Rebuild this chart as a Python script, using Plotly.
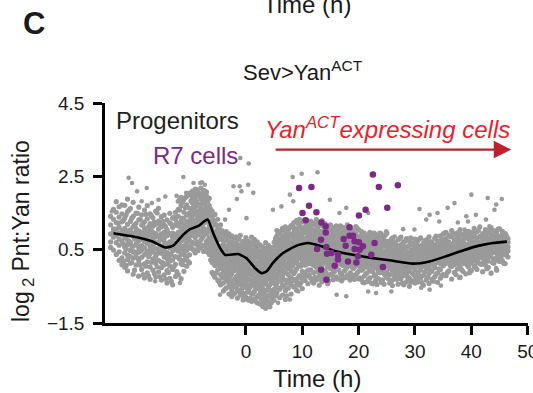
import plotly.graph_objects as go

# ---- data ----
# dense cloud of progenitor measurements, by time column (h): log2 Pnt:Yan ratio
gray_cols = [
    (-24.0, [0.71, 1.18, 0.93, 1.41, 0.56]),
    (-23.5, [1.07, 0.49, 1.33, 0.84, 1.60, 0.98]),
    (-23.0, [0.88, 1.24, 0.37, 1.52, 0.69, 1.06, 1.81]),
    (-22.5, [0.62, 1.39, 0.95, 0.21, 1.12, 1.67, 0.79, 0.44]),
    (-22.0, [1.03, 0.28, 0.74, 1.48, 0.91, 0.09, 1.26, 1.72]),
    (-21.5, [0.57, 1.36, 0.02, 0.83, 1.71, 0.41, 1.08, 0.96]),
    (-21.0, [1.19, 0.35, 0.77, -0.08, 1.54, 0.64, 0.99, 1.88, 0.23]),
    (-20.5, [0.48, 1.27, 0.90, 0.13, 1.62, 0.70, 1.04, 0.31]),
    (-20.0, [0.86, -0.17, 1.41, 0.59, 1.13, 0.27, 1.79, 0.95, 0.44]),
    (-19.5, [1.22, 0.66, 0.08, 0.97, 1.50, 0.38, 0.81, 1.08]),
    (-19.0, [0.52, 1.31, -0.22, 0.74, 1.01, 0.19, 1.66, 0.88, 0.43]),
    (-18.5, [0.93, 0.29, 1.17, 0.61, -0.04, 1.45, 0.78, 0.50]),
    (-18.0, [0.36, 1.09, 0.72, 1.58, 0.11, 0.89, -0.27, 0.55, 1.26]),
    (-17.5, [0.81, 0.17, 1.34, 0.46, 0.99, -0.13, 0.67, 1.70]),
    (-17.0, [0.58, 1.21, 0.03, 0.90, 0.39, 1.48, 0.73, -0.31, 1.02]),
    (-16.5, [1.14, 0.44, 0.82, -0.06, 0.62, 1.37, 0.25, 0.97]),
    (-16.0, [0.33, 0.94, 1.55, 0.12, 0.71, -0.24, 1.19, 0.53, 0.86]),
    (-15.5, [0.68, 1.28, 0.21, 0.89, -0.11, 0.47, 1.06, 1.63]),
    (-15.0, [0.40, 1.12, -0.33, 0.77, 0.58, 1.40, 0.16, 0.93, 0.01]),
    (-14.5, [0.52, 1.18, -0.19, 0.79, 0.30, 1.44, 0.08, 0.66, 0.97]),
    (-14.0, [0.26, 0.88, -0.41, 0.61, 1.05, 0.12, 1.31, 0.43, -0.07]),
    (-13.5, [0.71, 0.05, 1.23, 0.38, -0.28, 0.92, 0.55, 1.49, 0.19]),
    (-13.0, [0.47, 1.11, -0.46, 0.83, 0.22, 0.64, 1.36, -0.04, 0.95]),
    (-12.5, [0.90, 0.31, 1.52, -0.23, 0.68, 1.17, 0.10, 0.57, 1.33]),
    (-12.0, [0.63, 1.41, -0.18, 0.97, 1.82, 0.29, 1.15, 0.46, 0.80, 1.60]),
    (-11.5, [1.08, 0.37, 1.70, 0.74, -0.29, 1.28, 0.55, 1.93, 0.12, 0.91]),
    (-11.0, [0.82, 1.52, 0.21, 1.19, 0.60, 1.87, -0.09, 1.01, 0.43, 1.34]),
    (-10.5, [1.25, 0.48, 1.96, 0.88, 0.05, 1.44, 0.69, 1.10, 1.72, 0.30]),
    (-10.0, [0.97, 1.63, 0.36, 1.30, 2.04, 0.75, 1.16, 0.14, 1.49, 0.58]),
    (-9.5, [1.21, 1.78, 0.52, 1.43, 0.94, 2.10, 1.05, 0.70, 1.61, 1.33, 1.92]),
    (-9.0, [1.48, 0.83, 1.99, 1.12, 0.41, 1.67, 1.29, 2.15, 0.66, 1.02, 1.85]),
    (-8.5, [1.06, 1.72, 1.38, 0.58, 2.06, 1.19, 0.90, 1.55, 1.96, 0.47, 1.27]),
    (-8.0, [1.63, 1.15, 2.18, 0.76, 1.41, 1.88, 0.99, 0.55, 1.30, 1.74, 2.02]),
    (-7.5, [1.36, 1.91, 0.88, 1.58, 2.12, 1.08, 0.62, 1.47, 1.79, 1.22, 0.45]),
    (-7.0, [1.84, 1.02, 1.52, 0.71, 2.07, 1.25, 1.66, 0.93, 1.39, 1.97, 0.51]),
    (-6.5, [1.13, 1.70, 0.82, 1.44, 0.49, 1.90, 1.28, 0.64, 1.57, 1.01, 0.37]),
    (-6.0, [0.92, 1.41, 0.31, 1.12, 0.66, -0.12, 1.55, 0.48, 0.80, 0.15]),
    (-5.5, [0.54, 1.22, 0.07, 0.85, 1.46, 0.36, -0.25, 0.99, 0.62, 0.20]),
    (-5.0, [0.76, 0.18, 1.08, -0.33, 0.43, 1.33, 0.61, -0.05, 0.95, 0.29]),
    (-4.5, [0.35, 0.97, -0.18, 0.60, 1.18, 0.09, -0.46, 0.79, 0.47, 0.22]),
    (-4.0, [0.12, 0.74, -0.41, 0.50, -0.12, 0.95, 0.31, -0.63, 0.63, 0.02, 0.41]),
    (-3.5, [0.44, -0.22, 0.86, 0.09, -0.55, 0.58, 0.27, -0.04, 0.99, -0.33, 0.17]),
    (-3.0, [-0.09, 0.62, 0.21, -0.48, 0.80, 0.35, -0.71, 0.06, 0.49, -0.27, 0.93]),
    (-2.5, [0.30, -0.36, 0.71, 0.01, -0.62, 0.53, 0.18, -0.15, 0.88, -0.78, 0.40]),
    (-2.0, [0.57, -0.07, 0.24, -0.52, 0.82, 0.11, -0.30, 0.45, -0.69, 0.68, 0.03]),
    (-1.5, [-0.21, 0.38, 0.77, -0.58, 0.15, 0.51, -0.82, 0.02, 0.64, -0.38, 0.27]),
    (-1.0, [0.19, -0.45, 0.61, -0.13, 0.89, 0.33, -0.74, 0.08, 0.47, -0.29, -0.02]),
    (-0.5, [-0.34, 0.42, 0.05, -0.69, 0.73, 0.21, -0.11, 0.56, -0.87, 0.31, -0.46, 0.12]),
    (0.0, [0.26, -0.18, 0.64, -0.53, 0.09, 0.83, -0.39, 0.37, -0.80, -0.03, 0.50, -0.24]),
    (0.5, [-0.08, 0.55, -0.61, 0.19, -0.30, 0.71, 0.03, -0.88, 0.40, -0.15, 0.28, -0.47]),
    (1.0, [0.33, -0.42, 0.11, 0.66, -0.70, -0.19, 0.47, -0.05, 0.84, -0.91, 0.22, -0.33]),
    (1.5, [-0.27, 0.18, -0.64, 0.51, -0.01, 0.35, -0.85, -0.12, 0.62, -0.48, 0.07, 0.78]),
    (2.0, [0.14, -0.55, 0.43, -0.22, -0.79, 0.29, -0.06, 0.58, -0.40, 0.02, -0.95, 0.71]),
    (2.5, [-0.31, 0.22, -0.72, 0.05, -0.49, 0.47, -0.14, -0.98, 0.36, -0.60, -0.02, 0.63]),
    (3.0, [0.11, -0.57, -0.19, 0.58, -0.87, 0.28, -0.36, -0.06, -1.05, 0.41, -0.70, 0.17]),
    (3.5, [-0.44, 0.03, -0.81, 0.34, -0.25, -1.10, 0.52, -0.12, -0.63, 0.20, -0.38, 0.69]),
    (4.0, [0.24, -0.29, -0.92, 0.09, -0.54, 0.45, -0.17, -0.75, 0.62, -0.03, -1.02, 0.31]),
    (4.5, [-0.10, 0.38, -0.66, 0.14, -0.41, -0.95, 0.55, -0.21, 0.03, -0.79, 0.27, -0.33]),
    (5.0, [0.46, -0.18, 0.08, -0.58, 0.70, -0.35, -0.88, 0.19, -0.05, 0.33, -0.71, 0.57]),
    (5.5, [0.12, 0.65, -0.41, 0.36, -0.16, 0.88, -0.68, 0.23, 0.51, -0.03, 1.02, -0.29]),
    (6.0, [0.44, -0.22, 0.79, 0.05, -0.58, 0.31, 0.97, -0.10, 0.60, -0.81, 0.18, 0.70]),
    (6.5, [-0.05, 0.52, 0.21, -0.47, 0.86, 0.38, -0.74, 0.09, 1.08, -0.25, 0.67, 0.30]),
    (7.0, [0.63, 0.14, -0.33, 0.92, 0.41, -0.62, 0.27, 0.75, -0.12, 1.12, 0.02, -0.86]),
    (7.5, [0.29, 0.81, -0.18, 0.48, -0.55, 1.03, 0.10, 0.66, -0.37, 0.37, 0.95, -0.02]),
    (8.0, [0.57, -0.08, 0.91, 0.24, -0.46, 0.72, 1.15, 0.35, -0.71, 0.13, 0.49, -0.26]),
    (8.5, [0.40, 0.98, -0.15, 0.66, 0.12, 1.24, -0.52, 0.81, 0.28, 0.53, 1.10, -0.31]),
    (9.0, [0.73, 0.19, 1.07, -0.38, 0.55, 0.90, -0.02, 1.30, 0.35, -0.61, 0.64, 0.44]),
    (9.5, [0.26, 0.85, 0.48, -0.21, 1.18, 0.61, 0.06, 0.97, -0.47, 0.39, 1.33, 0.77]),
    (10.0, [0.94, 0.31, -0.09, 0.70, 1.26, 0.16, 0.52, -0.56, 0.83, 0.42, 1.05, -0.28]),
    (10.5, [0.59, 1.13, 0.08, 0.79, -0.34, 0.45, 1.31, 0.22, 0.96, -0.12, 0.66, 0.37]),
    (11.0, [0.21, 0.88, 0.50, -0.43, 1.02, 0.67, -0.06, 1.22, 0.34, 0.76, 0.11, 0.58]),
    (11.5, [0.71, 0.15, 1.09, 0.42, -0.28, 0.86, 0.57, 1.28, -0.05, 0.33, 0.98, 0.63]),
    (12.0, [0.38, 0.92, -0.12, 0.64, 1.19, 0.23, 0.79, -0.41, 0.51, 1.04, 0.08, 0.70]),
    (12.5, [0.85, 0.29, 0.60, -0.33, 1.14, 0.46, 0.02, 0.97, 0.73, 1.32, 0.18, 0.55]),
    (13.0, [0.13, 0.69, 1.01, 0.36, -0.22, 0.82, 0.53, 1.25, -0.47, 0.61, 0.27, 0.90]),
    (13.5, [0.48, 1.16, 0.07, 0.76, 0.33, -0.15, 0.95, 0.59, 1.29, 0.20, 0.67, -0.38]),
    (14.0, [0.62, 0.24, 0.89, -0.30, 0.45, 1.07, 0.14, 0.74, 0.39, 1.21, -0.06, 0.55]),
    (14.5, [0.31, 0.81, 0.03, 0.58, 1.12, -0.24, 0.70, 0.41, 0.93, 0.17, -0.43, 0.50]),
    (15.0, [0.77, 0.12, 0.52, 1.03, -0.18, 0.36, 0.88, 0.64, -0.02, 1.18, 0.26, 0.45]),
    (15.5, [0.40, 0.86, -0.11, 0.57, 1.10, 0.21, 0.68, -0.32, 0.95, 0.30, 0.49]),
    (16.0, [0.63, 0.18, 0.99, 0.37, -0.24, 0.76, 0.47, 1.15, 0.05, 0.55, 0.28]),
    (16.5, [0.26, 0.72, 0.51, -0.05, 1.04, 0.35, 0.84, 0.12, -0.29, 0.61, 0.92]),
    (17.0, [0.81, 0.40, 0.09, 0.66, 1.12, -0.17, 0.53, 0.23, 0.97, 0.44, -0.35]),
    (17.5, [0.34, 0.59, 0.93, -0.08, 0.71, 0.17, 1.06, 0.46, -0.27, 0.82, 0.28]),
    (18.0, [0.55, 0.14, 0.78, 0.38, -0.20, 0.98, 0.61, 0.03, 1.18, 0.45, 0.24]),
    (18.5, [0.20, 0.69, 0.44, 0.90, -0.13, 0.57, 0.31, 1.08, -0.33, 0.77, 0.50]),
    (19.0, [0.62, 0.35, -0.02, 0.83, 0.48, 0.10, 1.01, 0.27, 0.72, -0.25, 0.41]),
    (19.5, [0.39, 0.75, 0.16, 0.54, -0.19, 0.94, 0.30, 0.65, 1.13, 0.06, 0.47]),
    (20.0, [0.70, 0.23, 0.51, -0.09, 0.86, 0.37, 1.04, 0.13, -0.30, 0.60, 0.42]),
    (20.5, [0.31, 0.69, -0.06, 0.48, 0.12, 0.88, -0.31, 0.57, 0.22, 0.99]),
    (21.0, [0.52, 0.08, 0.77, 0.35, -0.22, 0.63, 0.19, 0.95, -0.40, 0.41]),
    (21.5, [0.16, 0.59, 0.38, -0.13, 0.83, 0.26, -0.37, 0.68, 0.46, 0.02]),
    (22.0, [0.44, 0.81, 0.10, 0.56, -0.27, 0.33, 0.97, -0.04, 0.65, 0.21]),
    (22.5, [0.28, -0.10, 0.61, 0.40, 0.89, 0.05, -0.43, 0.52, 0.17, 0.74]),
    (23.0, [0.58, 0.20, 0.37, -0.19, 0.76, 0.01, 0.47, -0.35, 0.91, 0.29]),
    (23.5, [0.09, 0.50, 0.70, 0.25, -0.29, 0.39, 0.84, -0.08, 0.60, 0.14]),
    (24.0, [0.43, -0.02, 0.66, 0.18, 0.93, 0.32, -0.39, 0.55, 0.07, 0.79]),
    (24.5, [0.24, 0.62, -0.16, 0.45, 0.11, 0.85, -0.44, 0.36, 0.72, 0.00]),
    (25.0, [0.51, 0.15, 0.73, -0.25, 0.34, 0.95, 0.04, 0.58, -0.11, 0.27]),
    (25.5, [0.20, 0.58, -0.18, 0.37, -0.41, 0.73, 0.06, 0.46, -0.02]),
    (26.0, [0.41, -0.07, 0.65, 0.12, -0.33, 0.29, 0.82, -0.48, 0.51]),
    (26.5, [0.03, 0.49, 0.26, -0.26, 0.70, -0.10, 0.36, 0.15, 0.59]),
    (27.0, [0.33, -0.15, 0.55, 0.08, -0.44, 0.77, 0.22, -0.03, 0.45]),
    (27.5, [-0.05, 0.38, 0.18, 0.63, -0.30, 0.47, -0.12, 0.84, 0.27]),
    (28.0, [0.25, 0.52, -0.21, 0.10, 0.71, -0.46, 0.35, 0.01, 0.60]),
    (28.5, [0.44, -0.01, 0.30, -0.37, 0.57, 0.13, 0.80, -0.16, 0.21]),
    (29.0, [0.09, 0.62, -0.28, 0.39, 0.20, -0.09, 0.74, 0.31, -0.50]),
    (29.5, [0.36, -0.14, 0.50, 0.02, 0.68, -0.35, 0.24, 0.43, 0.11]),
    (30.0, [0.17, 0.55, -0.23, 0.32, -0.04, 0.79, 0.07, -0.41, 0.46]),
    (30.5, [0.28, -0.12, 0.61, 0.05, 0.44, -0.38, 0.74, 0.19]),
    (31.0, [0.50, 0.13, -0.27, 0.36, 0.82, -0.06, 0.25, 0.58]),
    (31.5, [0.07, 0.42, 0.68, -0.20, 0.31, -0.47, 0.55, 0.16]),
    (32.0, [0.35, -0.03, 0.57, 0.22, -0.33, 0.77, 0.10, 0.46]),
    (32.5, [0.61, 0.18, -0.15, 0.40, 0.03, 0.85, -0.42, 0.29]),
    (33.0, [0.24, 0.52, -0.09, 0.70, 0.14, -0.30, 0.43, 0.33]),
    (33.5, [0.47, 0.09, 0.63, -0.24, 0.30, 0.81, 0.01, 0.20]),
    (34.0, [0.15, 0.58, 0.37, -0.13, 0.74, 0.26, -0.39, 0.49]),
    (34.5, [0.40, -0.05, 0.66, 0.21, 0.53, -0.28, 0.88, 0.12]),
    (35.0, [0.30, 0.72, 0.06, 0.47, -0.18, 0.61, 0.19, 0.93]),
    (35.5, [0.52, 0.13, 0.80, 0.34, -0.21, 0.66, 0.97, 0.25]),
    (36.0, [0.27, 0.71, -0.08, 0.49, 0.90, 0.16, 0.60, 0.38]),
    (36.5, [0.63, 0.04, 0.44, 0.85, -0.30, 0.55, 0.21, 1.02]),
    (37.0, [0.36, 0.78, 0.19, 0.57, -0.12, 0.93, 0.47, 0.09]),
    (37.5, [0.59, 0.30, 0.96, -0.03, 0.70, 0.42, 0.15, 0.82]),
    (38.0, [0.22, 0.68, 0.49, 1.05, 0.06, 0.37, -0.25, 0.76]),
    (38.5, [0.74, 0.33, 0.58, -0.09, 0.89, 0.45, 0.12, 0.64]),
    (39.0, [0.41, 0.86, 0.17, 0.62, 0.99, 0.27, -0.16, 0.53]),
    (39.5, [0.65, 0.20, 0.79, 0.46, 0.03, 1.00, 0.35, 0.57]),
    (40.0, [0.31, 0.72, 0.55, -0.07, 0.90, 0.43, 0.14, 0.81]),
    (40.5, [0.58, 0.21, 0.92, 0.40, 1.08, 0.05, 0.70]),
    (41.0, [0.77, 0.35, 0.99, -0.04, 0.62, 0.47, 0.15]),
    (41.5, [0.44, 0.86, 0.12, 0.68, 1.12, 0.30, 0.55]),
    (42.0, [0.63, 0.27, 0.94, 0.50, -0.10, 0.79, 0.38]),
    (42.5, [0.36, 0.73, 0.08, 1.05, 0.57, 0.22, 0.88]),
    (43.0, [0.81, 0.46, 0.19, 0.66, 0.97, 0.02, 0.54]),
    (43.5, [0.52, 0.91, 0.31, 0.74, -0.14, 0.60, 1.10]),
    (44.0, [0.69, 0.24, 0.85, 0.43, 1.02, 0.13, 0.58]),
    (44.5, [0.40, 0.78, 0.56, -0.06, 0.95, 0.29, 0.67]),
    (45.0, [0.75, 0.33, 1.07, 0.51, 0.18, 0.86, 0.62]),
    (45.5, [0.47, 0.90, 0.20, 0.68, 0.38, 1.00, 0.57]),
    (46.0, [0.64, 0.36, 0.82, 0.12, 0.55, 0.94, 0.45]),
    (46.5, [0.58, 0.80, 0.30, 0.70, 0.47]),
]

# further cloud points, read between the columns above
gray_cols_b = [
    (-21.75, [0.66, 1.29, 0.18, 0.97]), (-21.25, [1.45, 0.52, 0.86, 0.07]),
    (-20.75, [0.33, 1.02, 1.58, 0.74]), (-20.25, [0.91, 0.15, 1.36, 0.60]),
    (-19.75, [1.17, 0.44, -0.06, 0.79]), (-19.25, [0.27, 0.95, 1.49, 0.62]),
    (-18.75, [0.83, 1.33, 0.08, 0.46]), (-18.25, [1.21, 0.57, -0.18, 0.98]),
    (-17.75, [0.40, 0.92, 1.46, 0.05]), (-17.25, [0.75, -0.22, 1.13, 0.31]),
    (-16.75, [1.01, 0.51, 0.16, 1.42]), (-16.25, [0.22, 0.68, 1.25, -0.15]),
    (-15.75, [0.87, 0.38, 1.50, 0.03]), (-15.25, [0.58, 1.19, -0.24, 0.79]),
    (-14.75, [0.14, 0.91, 0.45, 1.27]), (-14.25, [0.67, -0.30, 1.12, 0.34]),
    (-13.75, [0.96, 0.28, -0.12, 0.60]), (-13.25, [0.36, 1.20, 0.71, -0.36]),
    (-12.75, [0.81, 0.04, 1.39, 0.49]), (-12.25, [1.24, 0.55, -0.10, 0.93]),
    (-11.75, [0.94, 1.58, 0.24, 1.22, 0.67, 1.87]),
    (-11.25, [1.36, 0.51, 1.79, 0.09, 1.03, 0.76]),
    (-10.75, [0.62, 1.64, 1.11, 0.33, 1.92, 0.88]),
    (-10.25, [1.48, 0.79, 0.18, 1.26, 1.99, 0.53]),
    (-9.75, [1.37, 0.88, 1.83, 0.61, 2.01, 1.14]),
    (-9.25, [1.69, 1.07, 0.49, 1.55, 1.23, 2.09]),
    (-8.75, [0.97, 1.81, 1.33, 2.14, 0.71, 1.46]),
    (-8.25, [1.52, 0.68, 1.97, 1.24, 1.70, 0.94]),
    (-7.75, [1.19, 2.03, 1.61, 0.82, 1.35, 1.88]),
    (-7.25, [1.74, 0.59, 1.28, 2.10, 1.00, 1.45]),
    (-6.75, [1.05, 1.62, 0.43, 1.32, 1.83, 0.77]),
    (-6.25, [1.27, 0.57, 1.01, 0.22, 1.60, 0.73]),
    (-5.75, [0.71, 0.13, 1.31, 0.43, -0.18, 0.90]),
    (-5.25, [0.49, 1.18, -0.13, 0.84, 0.27, 0.64]),
    (-4.75, [0.90, 0.07, 0.55, -0.38, 1.09, 0.32]),
    (-4.25, [0.25, 0.81, -0.27, 0.53, 1.02, -0.02]),
    (-3.75, [0.61, -0.15, 0.33, -0.58, 0.90, 0.10]),
    (-3.25, [-0.36, 0.47, 0.02, 0.74, -0.13, 0.28]),
    (-2.75, [0.15, -0.52, 0.59, -0.21, 0.39, 0.82]),
    (-2.25, [-0.44, 0.36, 0.66, -0.02, -0.71, 0.21]),
    (-1.75, [0.48, -0.25, 0.07, 0.85, -0.49, 0.30]),
    (-1.25, [-0.11, 0.55, -0.64, 0.25, 0.79, -0.36]),
    (-0.75, [0.37, -0.58, 0.16, -0.22, 0.66, -0.04]),
    (-0.25, [-0.41, 0.24, -0.77, 0.58, 0.01, -0.14]),
    (0.25, [0.45, -0.33, 0.08, -0.66, 0.74, -0.10]),
    (0.75, [-0.17, 0.36, -0.52, 0.60, -0.83, 0.15]),
    (1.25, [0.26, -0.71, -0.09, 0.48, -0.38, 0.70]),
    (1.75, [-0.55, 0.12, 0.39, -0.30, -0.91, 0.55]),
    (2.25, [0.32, -0.44, -0.13, 0.60, -0.74, 0.07]),
    (2.75, [-0.48, 0.16, -0.85, 0.40, -0.25, -0.03]),
    (3.25, [0.31, -0.73, -0.10, 0.53, -0.42, -0.96]),
    (3.75, [-0.60, 0.08, 0.43, -0.31, -0.88, 0.25]),
    (4.25, [0.14, -0.46, -1.06, 0.37, -0.15, 0.57]),
    (4.75, [-0.27, 0.50, -0.61, 0.02, -0.83, 0.26]),
    (5.25, [0.34, -0.46, 0.81, 0.02, -0.76, 0.57]),
    (5.75, [-0.21, 0.48, 0.15, 0.93, -0.54, 0.72]),
    (6.25, [0.62, -0.36, 0.27, 1.00, -0.06, 0.45]),
    (6.75, [0.18, 0.79, -0.52, 0.50, -0.14, 1.05]),
    (7.25, [-0.41, 0.35, 0.86, 0.06, 0.59, -0.76]),
    (7.75, [0.71, 0.02, -0.30, 1.10, 0.43, 0.20]),
    (8.25, [0.22, 0.87, -0.35, 0.60, 1.17, 0.05]),
    (8.75, [0.68, -0.09, 1.02, 0.31, -0.50, 0.84]),
    (9.25, [1.21, 0.43, -0.26, 0.77, 0.10, 0.56]),
    (9.75, [0.05, 0.66, 1.11, 0.29, -0.40, 0.90]),
    (10.25, [0.80, 0.24, 1.29, -0.16, 0.53, 0.99]),
    (10.75, [0.43, 1.06, -0.22, 0.71, 0.17, 1.20]),
    (11.25, [0.94, 0.30, 0.61, -0.19, 1.16, 0.47]),
    (11.75, [0.26, 0.82, -0.36, 1.02, 0.53, 0.11]),
    (12.25, [1.24, 0.58, 0.06, 0.77, -0.25, 0.40]),
    (12.75, [0.44, -0.10, 0.92, 0.20, 1.09, 0.66]),
    (13.25, [0.85, 0.31, -0.31, 0.58, 1.20, 0.04]),
    (13.75, [0.17, 0.73, 1.02, -0.22, 0.42, 0.90]),
    (14.25, [0.96, 0.50, -0.13, 0.28, 0.81, 1.15]),
    (14.75, [0.58, -0.35, 0.24, 1.04, 0.69, 0.07]),
    (15.25, [0.24, 0.73, -0.20, 1.02, 0.48, 0.09]),
    (15.75, [0.81, 0.36, 1.08, -0.09, 0.60, 0.16]),
    (16.25, [0.12, 0.54, 0.93, 0.30, -0.30, 0.74]),
    (16.75, [0.67, -0.14, 0.42, 1.15, 0.20, 0.88]),
    (17.25, [0.29, 0.98, 0.60, -0.24, 0.07, 0.50]),
    (17.75, [0.86, 0.43, -0.02, 0.69, 1.11, 0.22]),
    (18.25, [0.35, -0.27, 0.91, 0.62, 0.14, 0.47]),
    (18.75, [0.79, 0.05, 0.53, 1.03, 0.27, -0.18]),
    (19.25, [0.19, 0.66, -0.31, 0.87, 0.44, 0.02]),
    (19.75, [0.55, 1.08, 0.26, -0.13, 0.77, 0.34]),
    (20.25, [0.46, 0.03, 0.79, -0.27, 0.60, 0.21]),
    (20.75, [0.14, 0.71, 0.36, -0.39, 0.90, -0.02]),
    (21.25, [0.64, -0.16, 0.27, 0.85, 0.07, 0.49]),
    (21.75, [0.31, 0.92, -0.30, 0.54, 0.12, 0.73]),
    (22.25, [-0.08, 0.47, 0.69, 0.19, -0.41, 0.83]),
    (22.75, [0.57, 0.09, -0.22, 0.78, 0.35, 0.95]),
    (23.25, [0.22, 0.65, -0.45, 0.41, 0.00, 0.86]),
    (23.75, [0.74, 0.30, -0.13, 0.52, 0.95, 0.11]),
    (24.25, [0.15, 0.60, 0.37, -0.32, 0.81, -0.05]),
    (24.75, [0.66, -0.20, 0.26, 0.90, 0.43, 0.05]),
    (25.25, [0.32, -0.29, 0.64, 0.10]), (25.75, [0.55, 0.00, -0.37, 0.78]),
    (26.25, [0.19, 0.71, -0.20, 0.42]), (26.75, [-0.31, 0.40, 0.08, 0.62]),
    (27.25, [0.51, 0.13, -0.24, 0.80]), (27.75, [0.05, 0.66, -0.41, 0.30]),
    (28.25, [0.73, -0.08, 0.40, 0.16]), (28.75, [-0.25, 0.28, 0.58, 0.03]),
    (29.25, [0.47, -0.39, 0.14, 0.82]), (29.75, [0.21, 0.63, -0.18, 0.38]),
    (30.25, [-0.30, 0.50, 0.09, 0.70]), (30.75, [0.36, -0.21, 0.79, 0.13]),
    (31.25, [0.62, 0.04, -0.40, 0.44]), (31.75, [0.19, 0.75, 0.32, -0.11]),
    (32.25, [-0.25, 0.51, 0.06, 0.66]), (32.75, [0.43, -0.06, 0.72, 0.25]),
    (33.25, [0.09, 0.60, -0.36, 0.38]), (33.75, [0.55, 0.18, 0.87, -0.17]),
    (34.25, [-0.02, 0.44, 0.69, 0.28]), (34.75, [0.34, 0.80, -0.21, 0.57]),
    (35.25, [0.12, 0.63, 0.41, 0.95]), (35.75, [0.70, 0.24, -0.12, 0.48]),
    (36.25, [0.39, 0.86, 0.07, 0.58]), (36.75, [0.17, 0.67, 0.94, 0.33]),
    (37.25, [0.51, -0.18, 0.75, 0.27]), (37.75, [0.86, 0.40, 0.10, 0.61]),
    (38.25, [0.29, 0.93, 0.53, -0.04]), (38.75, [0.67, 0.19, 0.81, 0.44]),
    (39.25, [0.08, 0.52, 0.91, 0.33]), (39.75, [0.74, 0.38, -0.10, 0.59]),
    (40.25, [0.46, 0.97, 0.23, 0.66]), (40.75, [0.84, 0.31, 0.55, 0.02]),
    (41.25, [0.26, 0.71, 1.03, 0.49]), (41.75, [0.60, 0.10, 0.88, 0.40]),
    (42.25, [0.95, 0.45, 0.18, 0.70]), (42.75, [0.28, 0.62, 0.83, -0.02]),
    (43.25, [0.70, 0.37, 1.04, 0.51]), (43.75, [0.15, 0.80, 0.44, 0.63]),
    (44.25, [0.90, 0.52, 0.21, 0.74]), (44.75, [0.34, 0.71, 1.06, 0.47]),
    (45.25, [0.61, 0.26, 0.85, 0.44]), (45.75, [0.77, 0.52, 0.13, 0.95]),
    (46.25, [0.40, 0.68, 0.87, 0.55]),
]

# scattered progenitor outliers
sparse_x = [-23.8, -22.6, -20.8, -20.2, -19.3, -18.5, -17.6, -16.7, -15.5, -14.3,
            -12.3, -11.1, -10.6, -9.3, -8.1, -7.8, -7.3, -3.7, -3.0, -2.2,
            -1.6, -1.1, -0.8, -1.0, 0.5, 0.1, 0.4, 1.3, 4.8, 6.3,
            7.8, 8.3, 8.4, 9.9, 12.7, 14.9, 16.6, 17.8, 21.7, 24.9,
            26.4, 27.9, 29.9, 30.8, 32.0, 32.6, 34.0, 34.3, 35.8, 37.0,
            37.6, 38.8, 39.1, 39.4, 40.0, 40.8, 42.6, 42.9, 43.2, 44.1,
            44.4, 45.4, 46.2,
            -19.1, -16.1, -11.7, -4.6, -0.2, 1.3, 3.9, 5.7, 7.8, 9.3,
            16.1, 17.8, 21.7, 23.1, 24.3, 25.8, 28.1, 31.1, 32.6, 34.6,
            37.9, 39.7, 44.4]
sparse_y = [1.54, 1.23, 2.46, 2.32, 2.09, 1.82, 2.18, 1.77, 1.86, 1.95,
            1.97, 2.48, 2.05, 2.32, 2.32, 2.34, 2.27, 1.32, 1.59, 2.23,
            1.88, 2.23, 2.09, 3.00, 2.85, 1.36, 2.27, 2.05, 1.59, 1.68,
            2.00, 2.48, 1.82, 2.57, 2.61, 1.86, 1.50, 1.64, 1.50, 1.00,
            0.86, 1.06, 1.05, 1.61, 1.32, 1.45, 1.50, 1.27, 1.64, 1.77,
            1.24, 1.05, 1.41, 1.27, 2.00, 1.45, 1.32, 1.91, 1.14, 1.59,
            1.73, 1.88, 0.45,
            -0.23, -0.36, -0.41, -0.73, -0.86, -0.68, -1.05, -0.95, -0.86, -0.64,
            -0.73, -0.77, -0.64, -0.68, -0.41, -0.64, -0.45, -0.54, -0.59, -0.48,
            -0.27, -0.14, 0.00]

# R7 cells
r7_x = [9.43, 11.63, 11.2, 10.04, 12.51, 10.62, 13.4, 14.16, 14.16, 13.33,
        12.62, 14.28, 14.39, 15.17, 16.34, 16.34, 15.75, 13.33, 14.28, 17.35,
        17.7, 18.4, 19.29, 19.29, 20.05, 20.18, 20.76, 19.88, 19.6, 18.1,
        22.25, 22.83, 24.3, 20.05, 21.24, 22.53, 23.59, 25.08, 26.96, 18.4,
        19.0]
r7_y = [2.18, 2.21, 1.70, 1.50, 1.52, 1.30, 1.24, 1.14, 0.97, 0.77,
        0.52, 0.57, 0.39, 0.41, 0.36, 0.23, 0.06, -0.05, -0.32, 0.79,
        0.61, 0.88, 0.73, 0.52, 0.70, 0.50, 0.59, 0.32, 0.15, 0.18,
        0.36, 0.68, 0.03, 1.43, 1.59, 2.55, 2.21, 1.64, 2.26, 1.11,
        0.88]

# smoothed mean (black line)
mean_x = [-23.5, -20, -16.7, -14.3, -12.9, -11.1, -9.9, -8.4, -6.8, -5.8, -4.6, -3.7,
          -1.4, 0.1, 1.6, 2.8, 3.7, 4.8, 6.6, 9.0, 11.0, 13.1, 16.1, 19.0, 22.5,
          25.5, 29.6, 32.6, 35.5, 38.5, 41.4, 43.8, 46.3]
mean_y = [0.95, 0.86, 0.73, 0.56, 0.61, 0.91, 1.06, 1.15, 1.32, 0.95, 0.55, 0.36,
          0.38, 0.27, 0.0, -0.14, -0.09, 0.14, 0.41, 0.61, 0.68, 0.61, 0.45, 0.36, 0.27,
          0.21, 0.12, 0.18, 0.32, 0.48, 0.61, 0.68, 0.72]

x_ticks = [0, 10, 20, 30, 40, 50]
y_ticks = [-1.5, 0.5, 2.5, 4.5]
y_tick_text = ["\u22121.5", "0.5", "2.5", "4.5"]

# ---- figure ----
all_cols = gray_cols + gray_cols_b
gray_x = [cx for cx, ys in all_cols for _ in ys]
gray_y = [y for _, ys in all_cols for y in ys]

GRAY = "#9a9a9a"
PURPLE = "#7b2a85"
FONT = "Liberation Sans, Arial, sans-serif"
INK = "#1a1a1a"

fig = go.Figure()
fig.add_trace(go.Scatter(x=gray_x, y=gray_y, mode="markers",
                         marker=dict(size=5.2, color=GRAY, line=dict(width=0)),
                         hoverinfo="skip"))
fig.add_trace(go.Scatter(x=sparse_x, y=sparse_y, mode="markers",
                         marker=dict(size=4.6, color=GRAY, line=dict(width=0)),
                         hoverinfo="skip"))
fig.add_trace(go.Scatter(x=mean_x, y=mean_y, mode="lines",
                         line=dict(color="black", width=2.6, shape="spline", smoothing=0.5),
                         hoverinfo="skip"))
fig.add_trace(go.Scatter(x=r7_x, y=r7_y, mode="markers",
                         marker=dict(size=6.5, color=PURPLE, line=dict(width=0)),
                         hoverinfo="skip"))

W, H = 533, 393
L, R, T, B = 105, 5, 103, 70
pw, ph = W - L - R, H - T - B

def px(xp):
    return (xp - L) / pw

def py(yp):
    return (H - B - yp) / ph

ann = []
ann.append(dict(text="<b>C</b>", x=px(34), y=py(24), font=dict(size=31, color=INK)))
ann.append(dict(text="Time (h)", x=px(307), y=py(5), font=dict(size=24, color=INK)))
ann.append(dict(text="Sev>Yan<sup>ACT</sup>", x=px(303), y=py(71), font=dict(size=22, color=INK)))
ann.append(dict(text="Progenitors", x=px(114), y=py(120), xanchor="left",
                font=dict(size=24, color="#231f20")))
ann.append(dict(text="R7 cells", x=px(151), y=py(155), xanchor="left",
                font=dict(size=24, color=PURPLE)))
ann.append(dict(text="<i>Yan<sup>ACT</sup>expressing cells</i>", x=px(263), y=py(128), xanchor="left",
                font=dict(size=24, color="#e8222b")))
ann.append(dict(text="log<sub> 2</sub> Pnt:Yan ratio", x=px(22), y=py(231), textangle=-90,
                font=dict(size=23, color=INK)))
ann.append(dict(text="Time (h)", x=px(316.5), y=py(378), font=dict(size=24, color=INK)))
for a in ann:
    a.setdefault("xanchor", "center")
    a.update(xref="paper", yref="paper", yanchor="middle", showarrow=False)

# arrow under "Yan ACT expressing cells"
ann.append(dict(x=47.1, y=3.23, ax=5.0, ay=3.23, xref="x", yref="y", axref="x", ayref="y",
                text="", showarrow=True, arrowhead=2, arrowsize=1.6, arrowwidth=2.2,
                arrowcolor="#c0202e"))

fig.update_layout(
    width=W, height=H,
    margin=dict(l=L, r=R, t=T, b=B, autoexpand=False),
    paper_bgcolor="white", plot_bgcolor="white",
    showlegend=False,
    font=dict(family=FONT, color=INK),
    annotations=ann,
    xaxis=dict(range=[-25, 50.05], tickvals=x_ticks, showgrid=False, zeroline=False,
               showline=True, linecolor="black", linewidth=2.5,
               ticks="outside", ticklen=9, tickwidth=2.5, tickcolor="black",
               ticklabeloverflow="allow", automargin=False,
               tickfont=dict(size=19, family=FONT, color=INK)),
    yaxis=dict(range=[-1.5, 4.5], tickvals=y_ticks, ticktext=y_tick_text,
               showgrid=False, zeroline=False, automargin=False,
               showline=True, linecolor="black", linewidth=2.5,
               ticks="outside", ticklen=9, tickwidth=2.5, tickcolor="black",
               ticklabelstandoff=5,
               tickfont=dict(size=19, family=FONT, color=INK)),
)

fig.write_html("out.html")
